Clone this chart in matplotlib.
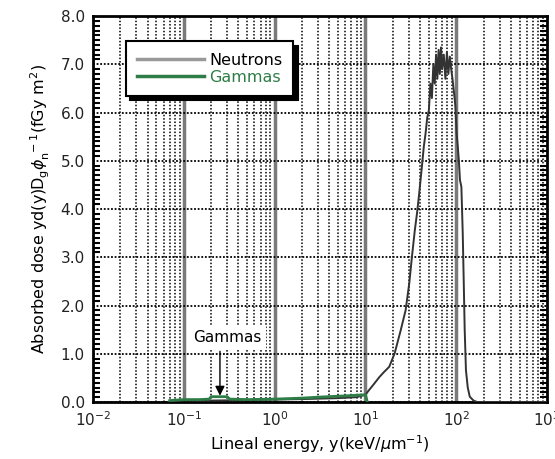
import matplotlib
matplotlib.use("Agg")
import matplotlib.pyplot as plt
from matplotlib.lines import Line2D
from matplotlib.ticker import LogLocator, MultipleLocator, NullFormatter

# neutron spectrum
neutron_y = [0.07, 0.1, 0.2, 0.5, 1, 2, 5, 8, 10, 11, 12.5, 14.3, 16, 18.3, 21, 24.5,
             27.7, 30.4, 32.5, 35, 37, 39, 42, 44, 46, 48, 50, 52, 54, 56, 58, 60,
             62, 64, 66, 68, 70, 73, 76, 79, 82, 85, 88, 91, 93, 96, 98, 101, 104,
             107, 110, 114, 118, 121, 124, 128, 134, 141, 155, 170, 1000]
neutron_d = [0.02, 0.03, 0.03, 0.04, 0.05, 0.06, 0.08, 0.1, 0.15, 0.25, 0.38, 0.52,
             0.62, 0.73, 1.01, 1.49, 1.9, 2.46, 3.0, 3.56, 3.91, 4.3, 4.9, 5.3, 5.57,
             5.9, 6.05, 6.6, 6.3, 7.0, 6.6, 7.2, 6.7, 7.3, 6.8, 7.35, 6.9, 7.2, 6.7,
             7.25, 6.8, 7.16, 6.9, 6.7, 6.53, 6.3, 6.12, 5.57, 5.3, 5.0, 4.6, 4.46,
             3.5, 2.5, 1.5, 0.66, 0.3, 0.11, 0.03, 0.0, 0.0]

# gamma spectrum
gamma_y = [0.07, 0.1, 0.15, 0.19, 0.2, 0.3, 0.32, 0.5, 1, 2, 3, 5, 8, 10, 10.5]
gamma_d = [0.03, 0.05, 0.05, 0.06, 0.11, 0.11, 0.06, 0.05, 0.06, 0.08, 0.1, 0.12,
           0.14, 0.15, 0.0]

green = "#2e7d46"

fig = plt.figure(figsize=(5.55, 4.59), dpi=100)
ax = fig.add_axes([0.1676, 0.1242, 0.818, 0.8408])

ax.set_xscale("log")
ax.set_xlim(1e-2, 1e3)
ax.set_ylim(0, 8)

# grid
ax.xaxis.set_minor_locator(LogLocator(base=10, subs=range(2, 10), numticks=20))
ax.xaxis.set_minor_formatter(NullFormatter())
ax.yaxis.set_major_locator(MultipleLocator(1.0))
ax.yaxis.set_minor_locator(MultipleLocator(0.1))
ax.grid(True, which="minor", axis="x", color="black", linestyle=(0, (1, 1.2)), lw=1.1)
ax.grid(True, which="major", axis="y", color="black", linestyle=(0, (1, 1)), lw=1.3)
for dec in [1e-1, 1e0, 1e1, 1e2]:
    ax.axvline(dec, color="#7a7a7a", lw=2.5, zorder=1)

ax.plot(neutron_y, neutron_d, color="#333333", lw=1.4, zorder=3)
ax.plot(gamma_y, gamma_d, color=green, lw=2.0, zorder=4)

ax.tick_params(axis="both", which="major", labelsize=11, colors="#222222", length=0, pad=6)
ax.tick_params(axis="y", which="minor", direction="in", length=5, width=1.5,
               left=True, right=True)
ax.tick_params(axis="x", which="minor", length=0)
ax.set_yticks(range(9))
ax.set_yticklabels([f"{v:.1f}" for v in range(9)])
for s in ax.spines.values():
    s.set_linewidth(2)

ax.set_xlabel(r"Lineal energy, y(keV/$\mu$m$^{-1}$)", fontsize=11.5, labelpad=3)
ax.set_ylabel(r"Absorbed dose yd(y)D$_{\rm g}\phi_{\rm n}^{\ -1}$(fGy m$^2$)",
              fontsize=11.5, labelpad=6)

handles = [Line2D([], [], color="#999999", lw=2.5),
           Line2D([], [], color=green, lw=2.5)]
leg = ax.legend(handles, ["Neutrons", "Gammas"], loc="upper left",
                bbox_to_anchor=(0.055, 0.955), fontsize=11.5, handlelength=4.2,
                frameon=True, fancybox=False, framealpha=1, edgecolor="black",
                borderpad=0.7, labelspacing=0.15, handletextpad=0.3,
                shadow={"color": "black", "alpha": 1, "ox": 3, "oy": -3})
leg.get_frame().set_linewidth(1.5)
leg.get_texts()[1].set_color(green)
leg.set_zorder(10)

ax.text(0.3, 1.33, "Gammas", ha="center", va="center", fontsize=11,
        bbox=dict(boxstyle="square,pad=0.3", fc="white", ec="none"), zorder=10)
ax.annotate("", xy=(0.25, 0.13), xytext=(0.25, 1.05),
            arrowprops=dict(arrowstyle="-|>", color="black", lw=1.0,
                            mutation_scale=14, shrinkA=0, shrinkB=0),
            zorder=10)

fig.savefig("out.png", dpi=100)
